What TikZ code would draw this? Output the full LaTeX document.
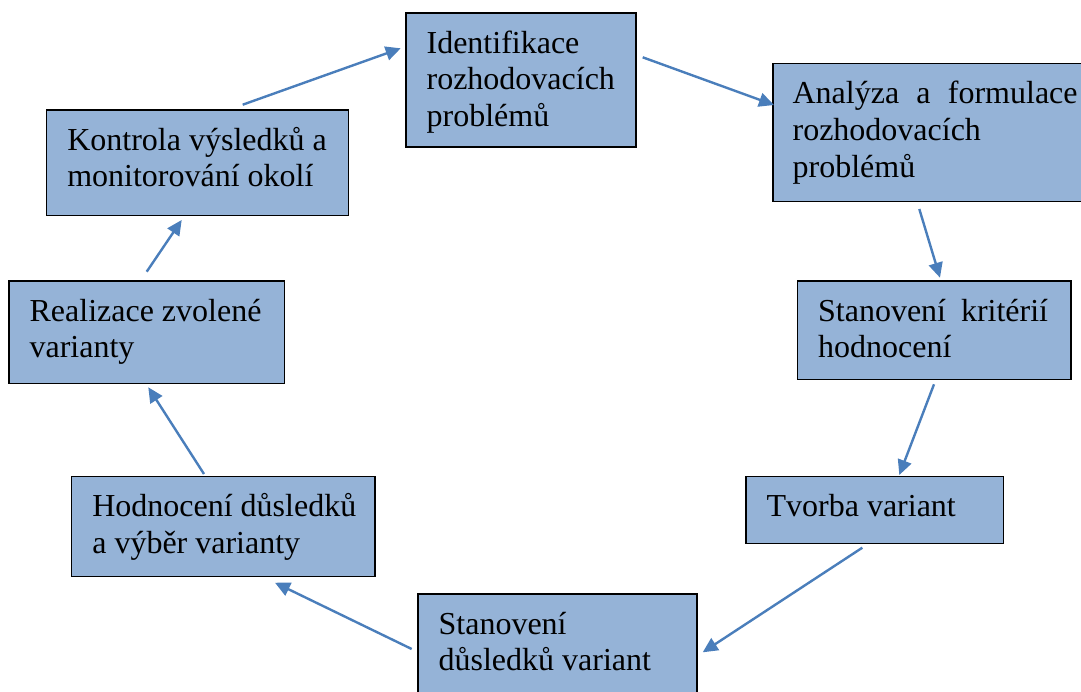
\documentclass[tikz,border=0pt]{standalone}
\usepackage{fontspec}
\setmainfont{Liberation Serif}
\usetikzlibrary{calc,arrows.meta}
\definecolor{boxfill}{HTML}{95B3D7}
\definecolor{arrblue}{HTML}{4A7EBB}
\tikzset{
  box/.style={draw=black, line width=1.2pt, fill=boxfill, rectangle, inner sep=0pt},
  txt/.style={anchor=north west, inner sep=0pt, align=left, font=\fontsize{32}{36.8}\selectfont},
  arr/.style={draw=arrblue, line width=2.4pt, -{Triangle[length=15pt,width=14pt]}}
}
\newcommand{\fs}{\rule{0pt}{25pt}}
\begin{document}
\begin{tikzpicture}[x=1pt,y=-1pt]
\useasboundingbox (0,0) rectangle (1081,691);
\clip (0,0) rectangle (1081,691);
% boxes
\node[box, minimum width=230pt, minimum height=134pt] (id) at (521,80) {};
\node[box, minimum width=312pt, minimum height=138pt] (an) at (929,132.5) {};
\node[box, minimum width=273.5pt, minimum height=98.5pt] (sk) at (934.25,330.25) {};
\node[box, minimum width=257.5pt, minimum height=66.6pt] (tv) at (874.75,510) {};
\node[box, minimum width=279pt, minimum height=101pt] (sd) at (557.5,644.5) {};
\node[box, minimum width=303.3pt, minimum height=100pt] (ho) at (223.35,526.7) {};
\node[box, minimum width=275.3pt, minimum height=102.3pt] (re) at (146.65,332.15) {};
\node[box, minimum width=301.6pt, minimum height=105.7pt] (ko) at (197.5,162.85) {};
% texts
\node[txt] (idt) at ($(id.north west)+(21,15.5)$) {\fs Identifikace\\rozhodovacích\\problémů};
\node[txt, text width=285pt] (ant) at ($(an.north west)+(20,15.5)$) {\fs Analýza\hfill a\hfill formulace\\rozhodovacích\\problémů};
\node[txt, text width=230pt] (skt) at ($(sk.north west)+(21,15.5)$) {\fs Stanovení\hfill kritérií\\hodnocení};
\node[txt] (tvt) at ($(tv.north west)+(21,15.5)$) {\fs Tvorba variant};
\node[txt] (sdt) at ($(sd.north west)+(21,15.5)$) {\fs Stanovení\\důsledků variant};
\node[txt] (hot) at ($(ho.north west)+(21,15.5)$) {\fs Hodnocení důsledků\\a výběr varianty};
\node[txt] (ret) at ($(re.north west)+(21,15.5)$) {\fs Realizace zvolené\\varianty};
\node[txt] (kot) at ($(ko.north west)+(21,15.5)$) {\fs Kontrola výsledků a\\monitorování okolí};
% arrow ends
\coordinate (a1s) at (242.7,104.7); \coordinate (a1e) at (400.7,48.3);
\coordinate (a2s) at (642.7,57.3);  \coordinate (a2e) at (774,105);
\coordinate (a3s) at (919.3,209);   \coordinate (a3e) at (940,277.7);
\coordinate (a4s) at (934,384.3);   \coordinate (a4e) at (899.3,475);
\coordinate (a5s) at (862.3,547.7); \coordinate (a5e) at (702.7,652.3);
\coordinate (a6s) at (411.7,649);   \coordinate (a6e) at (275,582.7);
\coordinate (a7s) at (204,474);     \coordinate (a7e) at (148.3,387.3);
\coordinate (a8s) at (146.7,271.7); \coordinate (a8e) at (181.7,220);
\draw[arr] (a1s) -- (a1e);
\draw[arr] (a2s) -- (a2e);
\draw[arr] (a3s) -- (a3e);
\draw[arr] (a4s) -- (a4e);
\draw[arr] (a5s) -- (a5e);
\draw[arr] (a6s) -- (a6e);
\draw[arr] (a7s) -- (a7e);
\draw[arr] (a8s) -- (a8e);
\end{tikzpicture}
\end{document}
